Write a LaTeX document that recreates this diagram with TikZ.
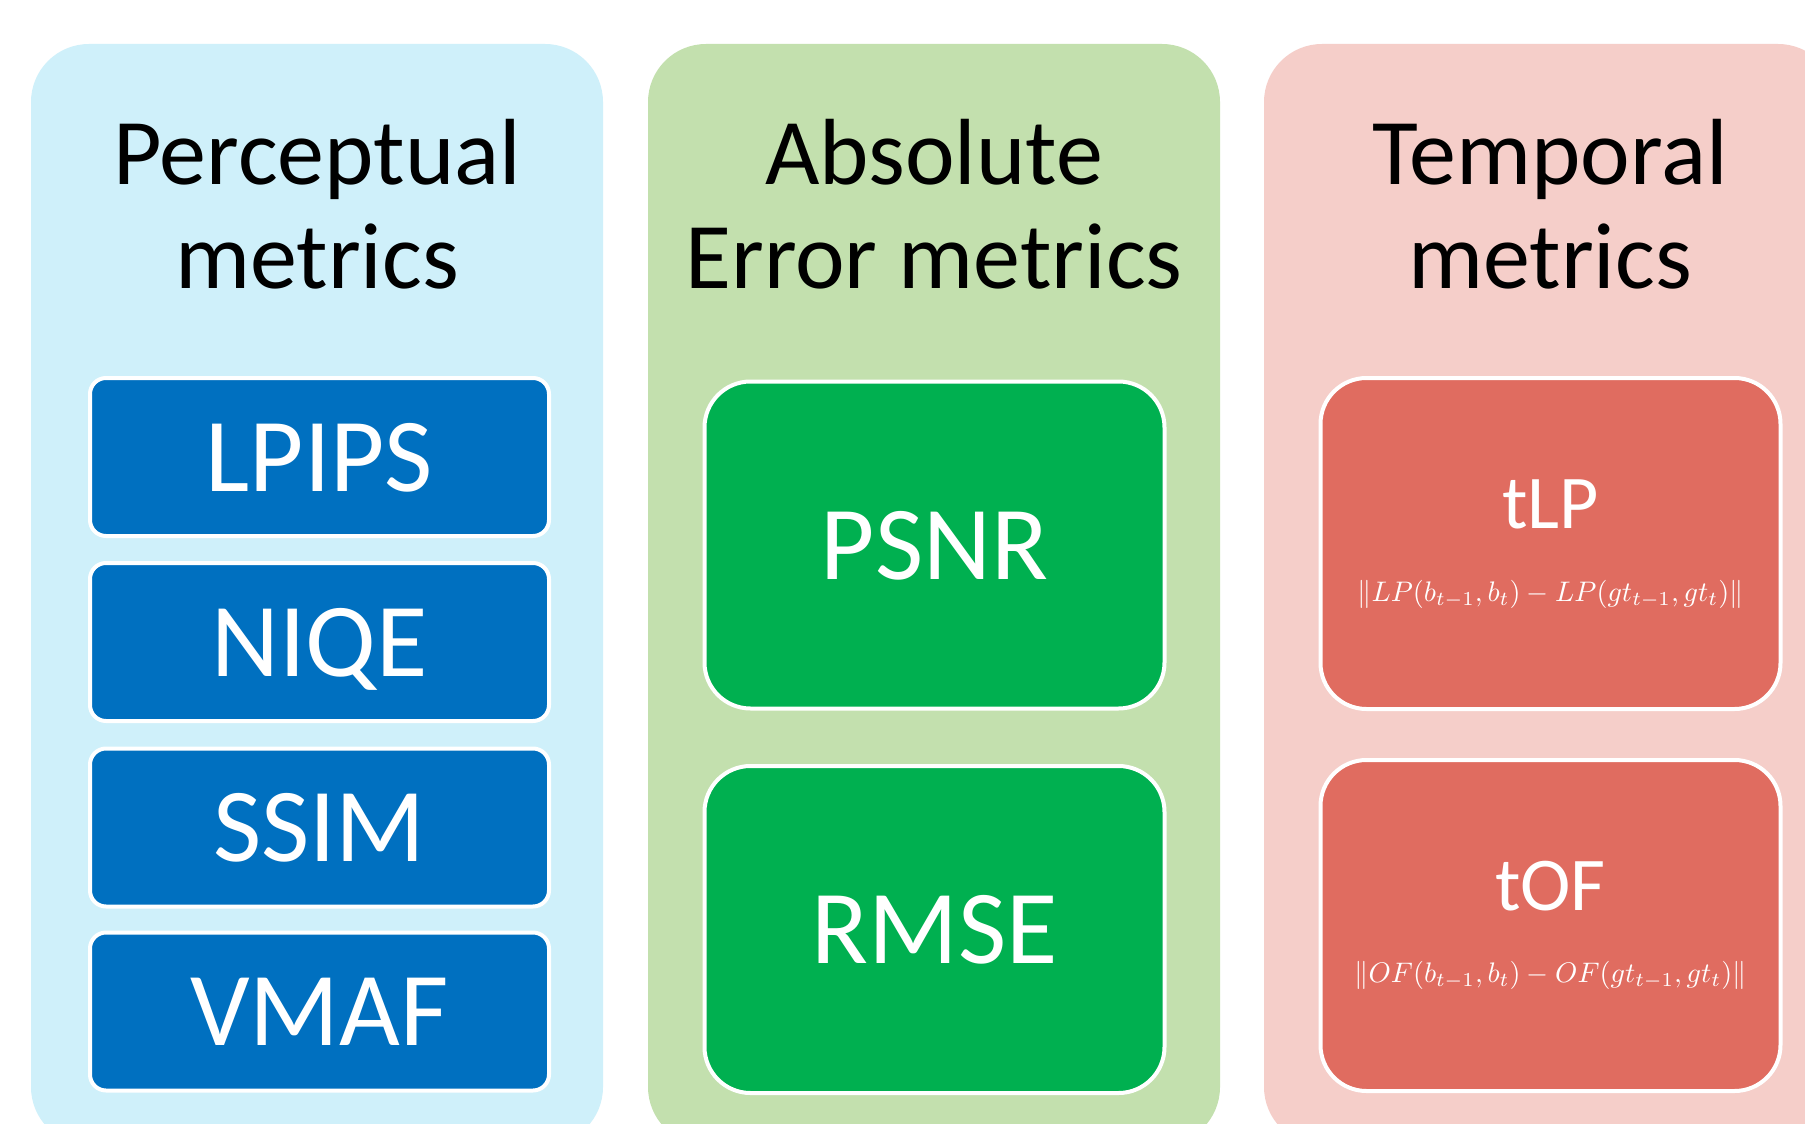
\documentclass[tikz,border=0pt]{standalone}
\usepackage{fontspec}
\setmainfont{Carlito}
\usepackage{graphicx}
\definecolor{pblue}{HTML}{CFF0FA}
\definecolor{pgreen}{HTML}{C3E0AE}
\definecolor{pred}{HTML}{F5CEC9}
\definecolor{bblue}{HTML}{0070C0}
\definecolor{bgreen}{HTML}{00B050}
\definecolor{bred}{HTML}{E06C60}
\tikzset{
  panel/.style={inner sep=0pt, minimum width=572pt, minimum height=1101pt, rounded corners=58pt},
  heading/.style={align=center, font=\fontsize{94}{104}\selectfont, text=black, anchor=base},
  smallbox/.style={draw=white, line width=4pt, fill=bblue, rounded corners=16pt, minimum width=459pt, minimum height=158pt, inner sep=0pt,
     text=white, font=\fontsize{105}{110}\selectfont, text height=68pt, text depth=0pt},
  bigbox/.style={draw=white, line width=4pt, rounded corners=46pt, minimum width=460pt, minimum height=327pt, inner sep=0pt},
  glabel/.style={text=white, font=\fontsize{105}{110}\selectfont, text height=68pt, text depth=0pt},
  tlabel/.style={text=white, font=\fontsize{76}{80}\selectfont, text height=49pt, text depth=0pt, inner sep=0pt},
  formula/.style={text=white, inner sep=0pt}
}
\begin{document}
\begin{tikzpicture}[x=1pt,y=-1pt]
\useasboundingbox (0,0) rectangle (1805,1124);
\fill[white] (0,0) rectangle (1805,1124);
\clip (0,0) rectangle (1805,1124);
% panels
\node[panel, fill=pblue] (pp) at (317,594.5) {};
\node[panel, fill=pgreen] (pa) at (934,594.5) {};
\node[panel, fill=pred] (pt) at (1550,594.5) {};
% headings
\node[heading] (hp) at (317,288) {Perceptual\\metrics};
\node[heading] (ha) at (934,288) {Absolute\\Error metrics};
\node[heading] (ht) at (1550,288) {Temporal\\metrics};
% perceptual boxes
\node[smallbox] (lpips) at (319.5,457) {LPIPS};
\node[smallbox] (niqe) at (319.5,642) {NIQE};
\node[smallbox] (ssim) at (319.5,827.5) {SSIM};
\node[smallbox] (vmaf) at (319.5,1011.5) {VMAF};
% absolute error boxes
\node[bigbox, fill=bgreen] (psnr) at (934.5,545) {};
\node[glabel] (psnrt) at (psnr.center) {PSNR};
\node[bigbox, fill=bgreen] (rmse) at (934.5,929.5) {};
\node[glabel] (rmset) at (rmse.center) {RMSE};
% temporal boxes
\node[bigbox, fill=bred, minimum height=331pt] (tlp) at (1550.5,543.5) {};
\node[tlabel] (tlpt) at ([yshift=40pt]tlp.center) {tLP};
\node[formula] (tlpf) at ([yshift=-51pt]tlp.center) {\resizebox{386pt}{!}{$\|LP(b_{t-1},b_t)-LP(gt_{t-1},gt_t)\|$}};
\node[bigbox, fill=bred, minimum height=331pt] (tof) at (1550.5,925.5) {};
\node[tlabel] (toft) at ([yshift=40pt]tof.center) {tOF};
\node[formula] (toff) at ([yshift=-50pt]tof.center) {\resizebox{392pt}{!}{$\|OF(b_{t-1},b_t)-OF(gt_{t-1},gt_t)\|$}};
\end{tikzpicture}
\end{document}
